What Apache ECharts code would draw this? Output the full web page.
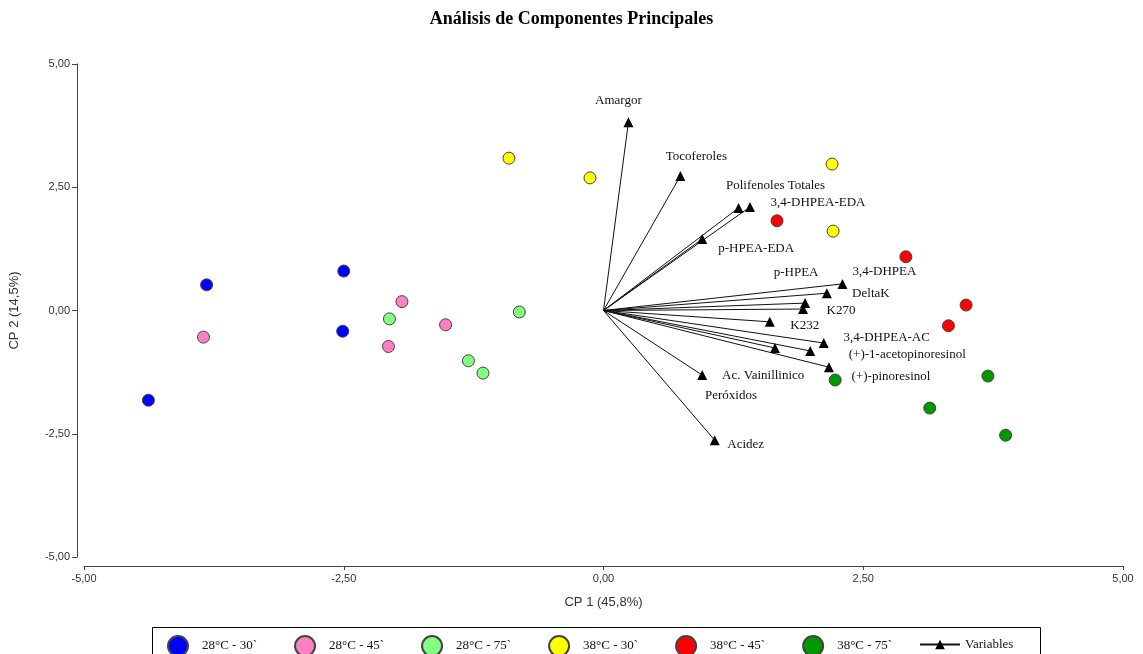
<!DOCTYPE html>
<html>
<head>
<meta charset="utf-8">
<script src="https://cdn.jsdelivr.net/npm/echarts@6/dist/echarts.min.js"></script>
<style>
  html, body { margin: 0; padding: 0; background: #fff; }
  #chart { width: 1143px; height: 654px; }
</style>
</head>
<body>
<div id="chart"></div>
<script>
// PCA biplot: sample scores (CP1, CP2) per storage condition and variable loadings as vectors.

// Sample scores, one array per condition: [CP1, CP2]
const scores28_30 = [[-3.82, 0.52], [-2.50, 0.80], [-2.51, -0.42], [-4.38, -1.82]];
const scores28_45 = [[-3.85, -0.54], [-1.94, 0.18], [-1.52, -0.29], [-2.07, -0.73]];
const scores28_75 = [[-2.06, -0.17], [-0.81, -0.03], [-1.30, -1.02], [-1.16, -1.27]];
const scores38_30 = [[-0.91, 3.09], [-0.13, 2.69], [2.20, 2.97], [2.21, 1.61]];
const scores38_45 = [[1.67, 1.82], [2.91, 1.09], [3.49, 0.11], [3.32, -0.31]];
const scores38_75 = [[2.23, -1.41], [3.14, -1.98], [3.70, -1.33], [3.87, -2.53]];

const groupNames = ['28°C - 30`', '28°C - 45`', '28°C - 75`', '38°C - 30`', '38°C - 45`', '38°C - 75`'];
const groupScores = [scores28_30, scores28_45, scores28_75, scores38_30, scores38_45, scores38_75];

// Variable loadings
const variableNames = [
  'Amargor', 'Tocoferoles', 'Polifenoles Totales', '3,4-DHPEA-EDA', 'p-HPEA-EDA',
  '3,4-DHPEA', 'DeltaK', 'p-HPEA', 'K270', 'K232',
  '3,4-DHPEA-AC', '(+)-1-acetopinoresinol', '(+)-pinoresinol', 'Peróxidos',
  'Ac. Vainillinico', 'Acidez'
];
const variableCP1 = [0.24, 0.74, 1.30, 1.41, 0.95, 2.30, 2.15, 1.94, 1.92, 1.60, 2.12, 1.99, 2.17, 1.65, 0.95, 1.07];
const variableCP2 = [3.82, 2.73, 2.08, 2.10, 1.45, 0.54, 0.35, 0.15, 0.03, -0.23, -0.66, -0.82, -1.15, -0.76, -1.31, -2.63];

// Axis ticks
const axisTicks = [-5, -2.5, 0, 2.5, 5];

// Label placement (pixel offset of each variable name from its marker)
const labelOffsets = [
  [-10, -22], [16, -19], [37, -22], [68, -4], [54, 10],
  [42, -12], [44, 0], [-9, -31], [38, 2], [35, 4],
  [63, -5], [97, 4], [62, 9], [-44, 48],
  [61, 0], [31, 4]
];

const groupColors = ['#0000ff', '#ff80c0', '#80ff80', '#ffff00', '#ff0000', '#009900'];

const fmt = v => v.toFixed(2).replace('.', ',');

// One polyline series with breaks: origin -> loading for each variable
const vectorData = [];
variableNames.forEach((name, i) => {
  vectorData.push({ value: [0, 0], symbol: 'none', label: { show: false } });
  vectorData.push({
    value: [variableCP1[i], variableCP2[i]],
    label: { show: true, formatter: name, offset: labelOffsets[i] }
  });
  vectorData.push({ value: ['-', '-'], symbol: 'none' });
});

const series = groupNames.map((name, i) => ({
  name: name,
  type: 'scatter',
  data: groupScores[i],
  symbol: 'circle',
  symbolSize: 12,
  itemStyle: { color: groupColors[i], borderColor: '#444', borderWidth: 1, opacity: 1 },
  z: 3
}));

series.push({
  name: 'Variables',
  type: 'line',
  data: vectorData,
  connectNulls: false,
  symbol: 'triangle',
  symbolSize: 10,
  showAllSymbol: true,
  lineStyle: { color: '#111', width: 1 },
  itemStyle: { color: '#000' },
  label: {
    show: true,
    position: 'inside',
    color: '#111',
    fontFamily: 'Liberation Serif',
    fontSize: 13
  },
  emphasis: { disabled: true },
  animation: false,
  z: 2
});

const axisCommon = {
  type: 'value',
  min: -5,
  max: 5,
  interval: 2.5,
  splitLine: { show: false },
  axisLine: { show: true, onZero: false, lineStyle: { color: '#444', width: 1 } },
  nameLocation: 'middle',
  nameTextStyle: { fontFamily: 'Liberation Sans', fontSize: 13, color: '#333' }
};

const chart = echarts.init(document.getElementById('chart'), null, { renderer: 'canvas' });
chart.setOption({
  animation: false,
  backgroundColor: '#fff',
  title: {
    text: 'Análisis de Componentes Principales',
    left: 'center',
    top: 5,
    textStyle: { fontFamily: 'Liberation Serif', fontSize: 18, fontWeight: 'bold', color: '#000' }
  },
  grid: { left: 83, right: 20, top: 64, bottom: 97, containLabel: false },
  xAxis: Object.assign({}, axisCommon, {
    name: 'CP 1 (45,8%)',
    nameGap: 30,
    offset: 9,
    axisLabel: { margin: 7, formatter: fmt, fontFamily: 'Liberation Sans', fontSize: 11, color: '#333',
      customValues: axisTicks },
    axisTick: { show: true, length: 4, lineStyle: { color: '#444' }, customValues: axisTicks }
  }),
  yAxis: Object.assign({}, axisCommon, {
    name: 'CP 2 (14,5%)',
    nameGap: 56,
    offset: 7,
    axisLabel: { margin: 7, formatter: fmt, fontFamily: 'Liberation Sans', fontSize: 11, color: '#333',
      customValues: axisTicks },
    axisTick: { show: true, length: 5, lineStyle: { color: '#444' }, customValues: axisTicks }
  }),
  legend: [
    {
      data: groupNames,
      left: 162,
      top: 630,
      orient: 'horizontal',
      itemWidth: 20,
      itemHeight: 20,
      itemGap: 37,
      selectedMode: false,
      icon: 'circle',
      textStyle: { fontFamily: 'Liberation Serif', fontSize: 13, color: '#111', padding: [0, 0, 0, 9] }
    },
    {
      data: ['Variables'],
      left: 914,
      top: 633,
      itemWidth: 40,
      itemHeight: 12,
      selectedMode: false,
      textStyle: { fontFamily: 'Liberation Serif', fontSize: 13, color: '#111' }
    }
  ],
  graphic: [{
    type: 'rect',
    shape: { x: 152.5, y: 627.5, width: 888, height: 40 },
    style: { fill: 'none', stroke: '#000', lineWidth: 1 },
    silent: true,
    z: 0
  }],
  series: series
});
</script>
</body>
</html>
